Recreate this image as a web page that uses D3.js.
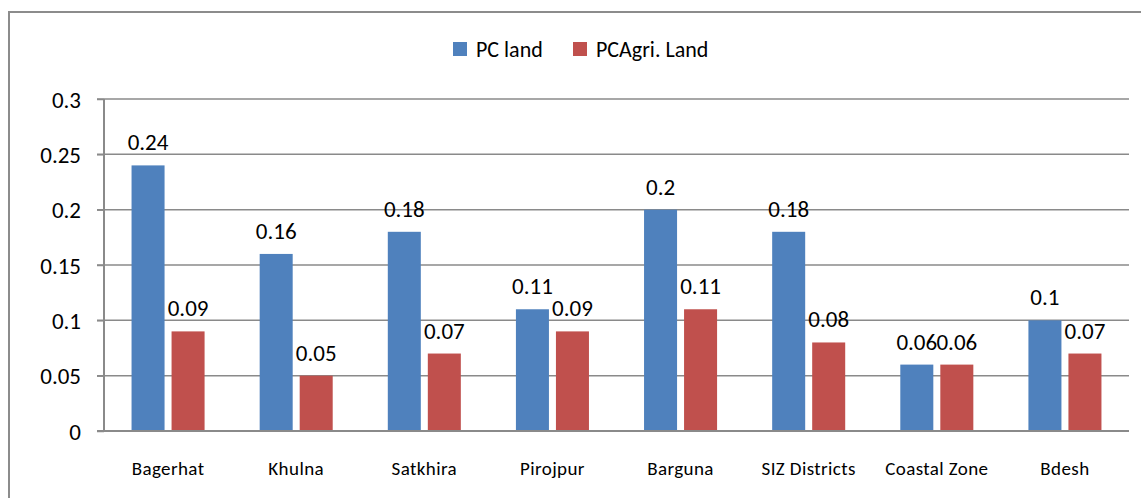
<!DOCTYPE html>
<html>
<head>
<meta charset="utf-8">
<script src="https://cdn.jsdelivr.net/npm/d3@7"></script>
<style>
  html, body { margin: 0; padding: 0; background: #fff; }
  svg { display: block; }
  text { font-family: Carlito, Calibri, Lato, "Open Sans", sans-serif; fill: #000; }
</style>
</head>
<body>
<svg id="chart" width="1141" height="498"></svg>
<script>
const categories = ["Bagerhat", "Khulna", "Satkhira", "Pirojpur", "Barguna", "SIZ Districts", "Coastal Zone", "Bdesh"];
const seriesNames = ["PC land", "PCAgri. Land"];
const pcLand = [0.24, 0.16, 0.18, 0.11, 0.2, 0.18, 0.06, 0.1];
const pcAgriLand = [0.09, 0.05, 0.07, 0.09, 0.11, 0.08, 0.06, 0.07];
const yTicks = [0, 0.05, 0.1, 0.15, 0.2, 0.25, 0.3];
const yTickLabels = ["0", "0.05", "0.1", "0.15", "0.2", "0.25", "0.3"];
const colors = ["#4F81BD", "#C0504D"];

const seriesValues = [pcLand, pcAgriLand];
const rows = categories.map((c, i) => ({ cat: c, vals: seriesValues.map((s, j) => ({ key: seriesNames[j], v: s[i], j })) }));

const svg = d3.select("#chart");
const plot = { left: 104, right: 1129, top: 99, bottom: 431 };

// outer chart border
svg.append("rect")
  .attr("x", 9).attr("y", 12).attr("width", 1160).attr("height", 520)
  .attr("fill", "none").attr("stroke", "#8c8c8c").attr("stroke-width", 2);

const y = d3.scaleLinear().domain([0, 0.3]).range([plot.bottom, plot.top]);
const x0 = d3.scaleBand().domain(categories).range([plot.left, plot.right]).padding(0);
const bw = x0.bandwidth();
const gap = bw * 0.215;
const x1 = d3.scaleBand().domain(seriesNames).range([gap, bw - gap]).paddingInner(0.175).paddingOuter(0);

// gridlines
svg.append("g")
  .selectAll("line").data(yTicks.filter(t => t > 0)).join("line")
  .attr("x1", plot.left - 7).attr("x2", plot.right)
  .attr("y1", d => y(d)).attr("y2", d => y(d))
  .attr("stroke", "#8a8a8a").attr("stroke-width", 1.5);

// y axis
const yAxis = d3.axisLeft(y).tickValues(yTicks).tickFormat((d, i) => yTickLabels[i]).tickSize(7).tickPadding(16);
const gy = svg.append("g").attr("transform", `translate(${plot.left},0)`).call(yAxis);
gy.select(".domain").attr("stroke", "#8a8a8a").attr("stroke-width", 2).attr("d", `M0,${plot.top}V${plot.bottom}`);
gy.selectAll(".tick line").attr("stroke", "#8a8a8a").attr("stroke-width", 1.5);
gy.selectAll(".tick text").style("font-size", "23px").attr("dy", "0.36em").attr("fill", "#000");

// bars
const groups = svg.append("g").selectAll("g").data(rows).join("g")
  .attr("transform", d => `translate(${x0(d.cat)},0)`);
groups.selectAll("rect").data(d => d.vals).join("rect")
  .attr("x", d => x1(d.key)).attr("width", x1.bandwidth())
  .attr("y", d => y(d.v)).attr("height", d => y(0) - y(d.v))
  .attr("fill", d => colors[d.j]);

// value labels
groups.selectAll("text.val").data(d => d.vals).join("text")
  .attr("class", "val")
  .attr("x", d => x1(d.key) + x1.bandwidth() / 2)
  .attr("y", d => y(d.v) - 15)
  .attr("text-anchor", "middle")
  .style("font-size", "23px")
  .text(d => String(d.v));

// x axis baseline
const xAxis = d3.axisBottom(x0).tickSize(0).tickPadding(0);
const gx = svg.append("g").attr("transform", `translate(0,${plot.bottom})`).call(xAxis);
gx.select(".domain").attr("stroke", "#8a8a8a").attr("stroke-width", 2).attr("d", `M${plot.left - 7},0H${plot.right}`);
gx.selectAll(".tick text").style("font-size", "19px").style("letter-spacing", "0.4px").attr("dy", 0).attr("y", 44).attr("fill", "#000");

// legend
const legend = svg.append("g");
const legendX = [453, 573];
seriesNames.forEach((name, j) => {
  legend.append("rect").attr("x", legendX[j]).attr("y", 42).attr("width", 14).attr("height", 14).attr("fill", colors[j]);
  legend.append("text").attr("x", legendX[j] + 23).attr("y", 57).style("font-size", "22px").text(name);
});
</script>
</body>
</html>
